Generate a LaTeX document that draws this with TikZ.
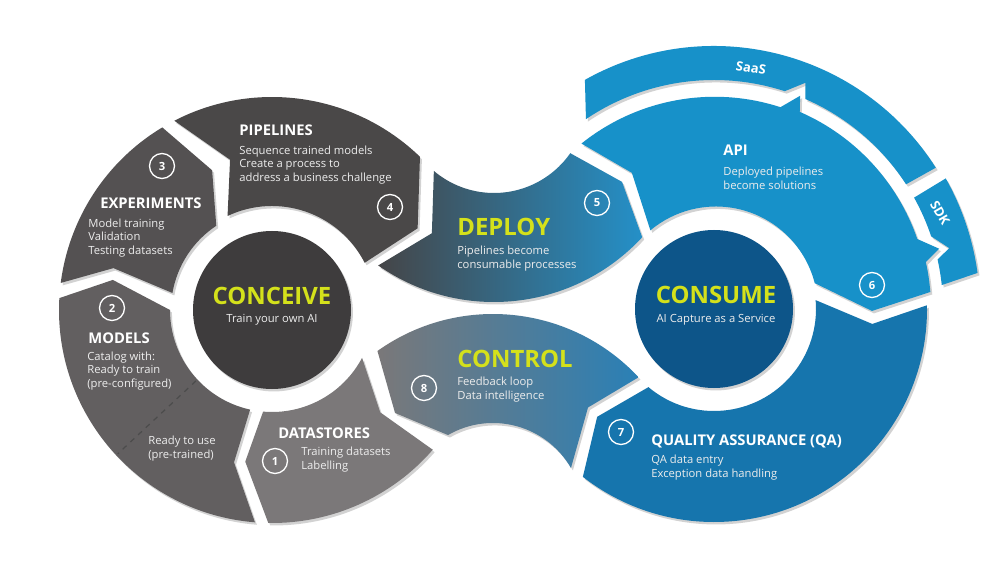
\documentclass[tikz,border=0pt]{standalone}
\usepackage{fontspec}
\setmainfont{Open Sans}
\usetikzlibrary{calc,shadows}
\definecolor{cpipe}{HTML}{4A4848}
\definecolor{cexp}{HTML}{545152}
\definecolor{cmod}{HTML}{625F60}
\definecolor{cds}{HTML}{7B7879}
\definecolor{cconc}{HTML}{3E3C3D}
\definecolor{dpL}{HTML}{454547}
\definecolor{dpR}{HTML}{2490C8}
\definecolor{ctL}{HTML}{7A7879}
\definecolor{ctR}{HTML}{2A80B6}
\definecolor{capi}{HTML}{1791C9}
\definecolor{cqa}{HTML}{1675AD}
\definecolor{ccons}{HTML}{0D5589}
\definecolor{ylw}{HTML}{D4E11B}
\definecolor{txt}{HTML}{EDEDED}
\begin{document}
\begin{tikzpicture}[x=0.02cm,y=-0.02cm,
  shp/.style={drop shadow={shadow xshift=1.1pt,shadow yshift=-1.4pt,opacity=0.35}},
  head/.style={font=\fontsize{8.4}{10}\selectfont\bfseries, text=white, anchor=west, inner sep=0pt},
  body/.style={font=\fontsize{6.4}{7.9}\selectfont, text=txt, anchor=west, align=left, inner sep=0pt},
  big/.style={font=\fontsize{13.6}{16}\selectfont\bfseries, text=ylw, inner sep=0pt},
  sub/.style={font=\fontsize{6.4}{7.9}\selectfont, text=txt, inner sep=0pt},
  num/.style={circle, draw=white, line width=0.75pt, minimum size=0.5cm, inner sep=0pt,
              font=\fontsize{6.4}{7.9}\selectfont\bfseries, text=white},
  band/.style={font=\fontsize{7.4}{9}\selectfont\bfseries, text=white, inner sep=0pt}]
\useasboundingbox (0,0) rectangle (1000,587);
\fill[white] (0,0) rectangle (1000,587);
\coordinate (C1) at (272,310);
\coordinate (C2) at (714,309);
\coordinate (C3) at (494,100);
\coordinate (C4) at (493,513);

% ---------- left ring ----------
% PIPELINES
\path[shp, fill=cpipe] ($(C1)+(242.7:213)$) arc[start angle=242.7, end angle=314, radius=213]
  -- ($(C1)+(330.7:167)$) -- ($(C1)+(333:104)$) arc[start angle=333, end angle=244.7, radius=104]
  -- ($(C1)+(254.4:156)$) -- cycle;
% EXPERIMENTS
\path[shp, fill=cexp] ($(C1)+(187.3:213)$) arc[start angle=187.3, end angle=239, radius=213]
  -- ($(C1)+(246.8:152)$) -- ($(C1)+(236.5:101)$) arc[start angle=236.5, end angle=189.7, radius=101]
  -- ($(C1)+(194.8:164)$) -- cycle;
% MODELS
\path[shp, fill=cmod] ($(C1)+(94.6:213)$) arc[start angle=94.6, end angle=183.2, radius=213]
  -- ($(C1)+(190.7:162)$) -- ($(C1)+(180:102)$) arc[start angle=180, end angle=102.4, radius=102]
  -- ($(C1)+(104:157)$) -- cycle;
\draw[dashed, line width=0.7pt, draw=black!70] ($(C1)+(137:104)$) -- ($(C1)+(137:211)$);
% DATASTORES
\path[shp, fill=cds] ($(C1)+(41:213)$) arc[start angle=41, end angle=91, radius=213]
  -- ($(C1)+(100:154)$) -- ($(C1)+(95:102)$) arc[start angle=95, end angle=28, radius=102]
  -- ($(C1)+(43.4:149)$) -- cycle;

% ---------- S bands ----------
% DEPLOY
\path[shp, left color=dpL, right color=dpR] ($(C3)+(130.3:93)$) arc[start angle=130.3, end angle=34.9, radius=93]
  -- ($(C3)+(32.6:152)$) -- ($(C3)+(42.8:202)$) arc[start angle=42.8, end angle=125, radius=202]
  -- ($(C3)+(115:147)$) -- cycle;
% CONTROL
\path[shp, left color=ctL, right color=ctR] ($(C4)+(317:199)$) arc[start angle=317, end angle=234.5, radius=199]
  -- ($(C4)+(225.6:140)$) -- ($(C4)+(240:90)$) arc[start angle=240, end angle=330, radius=90]
  -- ($(C4)+(312:142)$) -- cycle;

% ---------- right ring ----------
% SaaS
\path[shp, fill=capi] ($(C2)+(240.6:263)$) arc[start angle=240.6, end angle=327.5, radius=263]
  -- ($(C2)+(327:229)$) arc[start angle=327, end angle=293.5, radius=229]
  -- ($(C2)+(292:244)$) -- ($(C2)+(288:229)$) arc[start angle=288, end angle=236, radius=229] -- cycle;
% SDK
\path[shp, fill=capi] ($(C2)+(330.6:266)$) arc[start angle=330.6, end angle=352.2, radius=266]
  -- ($(C2)+(354:229)$) arc[start angle=354, end angle=347.5, radius=229]
  -- ($(C2)+(345.5:243)$) -- ($(C2)+(341.5:229)$) arc[start angle=341.5, end angle=330.9, radius=229] -- cycle;
% API
\path[shp, fill=capi] ($(C2)+(231.3:212)$) arc[start angle=231.3, end angle=288, radius=213]
  -- ($(C2)+(292:230)$) -- ($(C2)+(293.5:215)$) arc[start angle=293.5, end angle=341, radius=215]
  -- ($(C2)+(345:233)$) -- ($(C2)+(347.5:217)$) arc[start angle=347.5, end angle=355.5, radius=217]
  -- ($(C2)+(0.7:158)$) -- ($(C2)+(345.6:104)$) arc[start angle=345.6, end angle=230, radius=102]
  -- ($(C2)+(238.9:159)$) -- cycle;
% QA
\path[shp, fill=cqa] ($(C2)+(-1:213)$) arc[start angle=-1, end angle=128, radius=213]
  -- ($(C2)+(137.3:159)$) -- ($(C2)+(130:102)$) arc[start angle=130, end angle=-5, radius=102]
  -- ($(C2)+(5.4:159)$) -- cycle;

% ---------- hubs ----------
\fill[shp, fill=cconc] (C1) circle[radius=79];
\fill[shp, fill=ccons] (C2) circle[radius=79];

% ---------- texts ----------
\node[big] (tconc) at (272,296) {CONCEIVE};
\node[sub] (sconc) at (272,320) {Train your own AI};
\node[big] (tcons) at (716,295) {CONSUME};
\node[sub] (scons) at (716,320) {AI Capture as a Service};

\node[head] (hpipe) at (239,130) {PIPELINES};
\node[body] (bpipe) at (239,165) {Sequence trained models\\Create a process to\\address a business challenge};
\node[head] (hexp) at (100,203) {EXPERIMENTS};
\node[body] (bexp) at (88,238) {Model training\\Validation\\Testing datasets};
\node[head] (hmod) at (88,338) {MODELS};
\node[body] (bmod) at (87,371) {Catalog with:\\Ready to train\\(pre-configured)};
\node[body] (bmod2) at (148,449) {Ready to use\\(pre-trained)};
\node[head] (hds) at (278,433) {DATASTORES};
\node[body] (bds) at (301,460) {Training datasets\\Labelling};

\node[big, anchor=west] (tdep) at (457,227) {DEPLOY};
\node[body] (bdep) at (457,259) {Pipelines become\\consumable processes};
\node[big, anchor=west] (tctl) at (457,359) {CONTROL};
\node[body] (bctl) at (457,390) {Feedback loop\\Data intelligence};

\node[head] (hapi) at (723,150) {API};
\node[body] (bapi) at (723,178) {Deployed pipelines\\become solutions};
\node[head] (hqa) at (651,441) {QUALITY ASSURANCE (QA)};
\node[body] (bqa) at (651,468) {QA data entry\\Exception data handling};

\node[band, rotate=-8.5] (tsaas) at (751,68) {SaaS};
\node[band, rotate=-60] (tsdk) at (940,213) {SDK};

\node[num] (n1) at (275,461) {1};
\node[num] (n2) at (112,308) {2};
\node[num] (n3) at (162,166) {3};
\node[num] (n4) at (390,207) {4};
\node[num] (n5) at (597,203) {5};
\node[num] (n6) at (872,285) {6};
\node[num] (n7) at (621,432) {7};
\node[num] (n8) at (424,388) {8};
\end{tikzpicture}
\end{document}
